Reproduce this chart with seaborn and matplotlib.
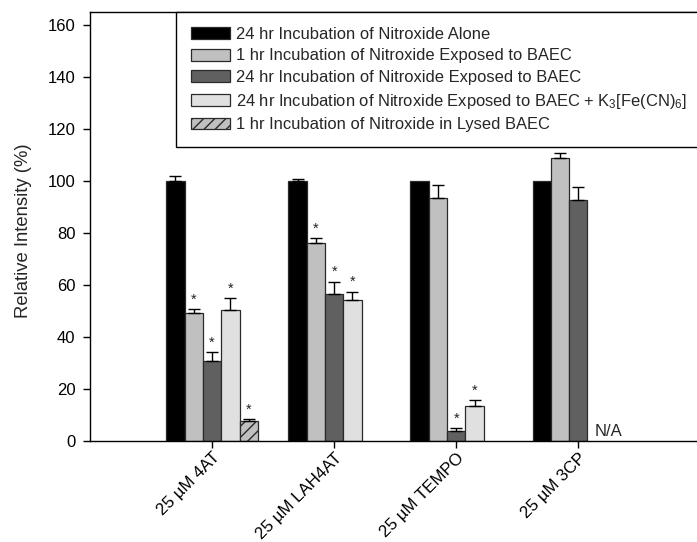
import numpy as np
import pandas as pd
import matplotlib
matplotlib.use("Agg")
import matplotlib.pyplot as plt
from matplotlib.patches import Patch
from matplotlib.container import BarContainer
import seaborn as sns

# ---- data ----
compounds = ["25 µM 4AT", "25 µM LAH4AT", "25 µM TEMPO", "25 µM 3CP"]
conditions = [
    "24 hr Incubation of Nitroxide Alone",
    "1 hr Incubation of Nitroxide Exposed to BAEC",
    "24 hr Incubation of Nitroxide Exposed to BAEC",
    "24 hr Incubation of Nitroxide Exposed to BAEC + K$_3$[Fe(CN)$_6$]",
    "1 hr Incubation of Nitroxide in Lysed BAEC",
]
alone_24h = [100.0, 100.0, 100.0, 100.0]
baec_1h = [49.3, 76.0, 93.6, 108.7]
baec_24h = [30.9, 56.5, 3.8, 92.8]
baec_ferri_24h = [50.2, 54.3, 13.5, np.nan]
lysed_1h = [7.6, np.nan, np.nan, np.nan]

alone_24h_err = [1.9, 0.7, 0.0, 0.0]
baec_1h_err = [1.3, 2.1, 4.7, 2.1]
baec_24h_err = [3.3, 4.8, 1.1, 5.0]
baec_ferri_24h_err = [4.8, 3.2, 2.1, np.nan]
lysed_1h_err = [0.8, np.nan, np.nan, np.nan]

alone_24h_sig = [False, False, False, False]
baec_1h_sig = [True, True, False, False]
baec_24h_sig = [True, True, True, False]
baec_ferri_24h_sig = [True, True, True, False]
lysed_1h_sig = [True, False, False, False]

na_label = "N/A"

values = [alone_24h, baec_1h, baec_24h, baec_ferri_24h, lysed_1h]
errors = [alone_24h_err, baec_1h_err, baec_24h_err, baec_ferri_24h_err, lysed_1h_err]
sigs = [alone_24h_sig, baec_1h_sig, baec_24h_sig, baec_ferri_24h_sig, lysed_1h_sig]

colors = ["#000000", "#c0c0c0", "#606060", "#e0e0e0", "#c0c0c0"]

rows = []
for cond, vals in zip(conditions, values):
    for comp, v in zip(compounds, vals):
        if not np.isnan(v):
            rows.append({"compound": comp, "condition": cond, "value": v})
df = pd.DataFrame(rows)

# ---- style ----
sns.set_theme(style="ticks")
plt.rcParams["font.family"] = ["Liberation Sans", "DejaVu Sans"]
plt.rcParams["mathtext.fontset"] = "custom"
plt.rcParams["mathtext.rm"] = "Liberation Sans"
plt.rcParams["mathtext.it"] = "Liberation Sans:italic"
plt.rcParams["mathtext.default"] = "regular"
plt.rcParams["hatch.linewidth"] = 1.0

fig = plt.figure(figsize=(6.97, 5.42), dpi=100)
ax = fig.add_axes([90 / 697, 101 / 542, 647 / 697, 429 / 542])

sns.barplot(
    data=df, x="compound", y="value", hue="condition",
    order=compounds, hue_order=conditions,
    palette=dict(zip(conditions, colors)), saturation=1,
    width=0.75, errorbar=None, edgecolor="#2a2a2a", linewidth=0.9,
    legend=False, ax=ax,
)

bar_conts = [c for c in ax.containers if isinstance(c, BarContainer)]
for i, cont in enumerate(bar_conts):
    for bar in cont:
        if bar is None:
            continue
        xc = bar.get_x() + bar.get_width() / 2
        cat = int(round(xc))
        h = bar.get_height()
        if not np.isfinite(h) or h == 0:
            continue
        err = errors[i][cat]
        if i == 4:
            bar.set_hatch("///")
            bar.set_edgecolor("#2a2a2a")
        if err and np.isfinite(err) and err > 0:
            ax.errorbar(xc, h, yerr=[[0], [err]], fmt="none", ecolor="black",
                        elinewidth=1.0, capsize=4.5, capthick=1.0, zorder=3)
        else:
            err = 0
        if sigs[i][cat]:
            ax.text(xc, h + err + 1.0, "*", ha="center",
                    va="bottom", fontsize=10.5, color="#222222")

ax.text(3.13, 2.0, na_label, ha="left", va="baseline", fontsize=12)

ax.set_xlim(-1, 4.3)
ax.set_ylim(0, 165)
ax.set_yticks(np.arange(0, 161, 20))
ax.set_ylabel("Relative Intensity (%)", fontsize=13.3)
ax.yaxis.set_label_coords((32 - 90) / 647, 0.49)
ax.set_xlabel("")
ax.tick_params(axis="both", direction="out", length=5, width=1, colors="black")
ax.tick_params(axis="y", labelsize=12, pad=5.5)
ax.tick_params(axis="x", labelsize=12.2, pad=1.5)
plt.setp(ax.get_xticklabels(), rotation=45, ha="right", rotation_mode="anchor")
for s in ax.spines.values():
    s.set_linewidth(1.0)
    s.set_color("black")
    s.set_visible(True)

handles = []
for i, (cond, col) in enumerate(zip(conditions, colors)):
    handles.append(Patch(facecolor=col, edgecolor="#2a2a2a", linewidth=0.9,
                         hatch="///" if i == 4 else None, label=cond))
x0 = (176 - 90) / 647
leg = ax.legend(handles=handles, loc="upper left", mode="expand",
                bbox_to_anchor=(x0, 0.0, (760 - 176) / 647, 1.0), borderaxespad=0,
                fontsize=11.9, frameon=True, fancybox=False, framealpha=1,
                edgecolor="black", handlelength=2.36, handleheight=0.73,
                handletextpad=0.4, labelspacing=0.4, borderpad=0.9)
leg.get_frame().set_linewidth(1.0)

fig.savefig("out.png", dpi=100)
